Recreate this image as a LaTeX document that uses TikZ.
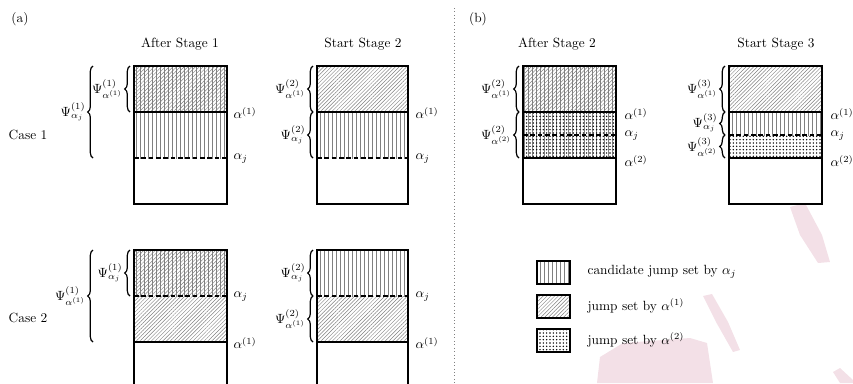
\documentclass[tikz,border=0pt]{standalone}
\usetikzlibrary{patterns.meta,decorations.pathreplacing}
\definecolor{wm}{RGB}{243,224,231}
\begin{document}
\begin{tikzpicture}[x=0.75pt,y=-0.75pt,
  boxline/.style={line width=1.1pt},
  vlines/.style={pattern={Lines[angle=90,distance=3pt,line width=0.5pt]},pattern color=gray},
  nelines/.style={pattern={Lines[angle=45,distance=2pt,line width=0.35pt]},pattern color=gray},
  dotfill/.style={pattern={Dots[distance=2.5pt,radius=0.6pt]},pattern color=black},
  ajline/.style={line width=1.2pt,dash pattern=on 3.5pt off 2pt},
  brc/.style={decorate,decoration={brace,amplitude=4pt},line width=0.9pt},
  lbl/.style={anchor=east,inner sep=1pt},
  rlbl/.style={anchor=west,inner sep=1pt},
  ttl/.style={inner sep=1pt},
  lgbox/.style={line width=1.1pt}]
\clip (0,0) rectangle (853,383);
% watermark shapes
\fill[wm] (790,207) -- (805,203) -- (822,235) -- (830,262) -- (818,263) -- (800,235) -- cycle;
\fill[wm] (703,296) -- (712,294) -- (728,322) -- (740,350) -- (733,352) -- (716,322) -- cycle;
\fill[wm] (600,357) -- (623,343) -- (690,338) -- (707,343) -- (713,383) -- (597,383) -- cycle;
\fill[wm] (833,372) -- (840,368) -- (853,380) -- (853,383) -- (840,383) -- cycle;
% divider
\draw[gray, dotted, line width=0.6pt] (454,8) -- (454,383);
% headings
\node[ttl] (pa) at (20,19) {(a)};
\node[ttl] (pb) at (478,19) {(b)};
\node[ttl] (t1) at (180,44) {After Stage 1};
\node[ttl] (t2) at (363,44) {Start Stage 2};
\node[ttl] (t3) at (557,44) {After Stage 2};
\node[ttl] (t4) at (776,44) {Start Stage 3};
\node[ttl] (c1) at (28,135) {Case 1};
\node[ttl] (c2) at (28,318) {Case 2};

% ===== Case 1, After Stage 1 =====
\path[vlines] (134,66) rectangle (227,158);
\path[nelines] (134,66) rectangle (227,112);
\draw[boxline] (134,66) rectangle (227,204);
\draw[boxline] (134,112) -- (227,112);
\draw[ajline] (134,158) -- (227,158);
\draw[brc] (130,112) -- (130,66);
\node[lbl] (a1s) at (124,89) {$\Psi^{(1)}_{\alpha^{(1)}}$};
\draw[brc] (93,158) -- (93,66);
\node[lbl] (a1b) at (87,112) {$\Psi^{(1)}_{\alpha_j}$};
\node[rlbl] (a1r1) at (232,113) {$\alpha^{(1)}$};
\node[rlbl] (a1r2) at (232,159) {$\alpha_j$};

% ===== Case 1, Start Stage 2 =====
\path[vlines] (317,112) rectangle (408,158);
\path[nelines] (317,66) rectangle (408,112);
\draw[boxline] (317,66) rectangle (408,204);
\draw[boxline] (317,112) -- (408,112);
\draw[ajline] (317,158) -- (408,158);
\draw[brc] (313,112) -- (313,66);
\node[lbl] (b1s) at (307,89) {$\Psi^{(2)}_{\alpha^{(1)}}$};
\draw[brc] (313,158) -- (313,112);
\node[lbl] (b1t) at (307,135) {$\Psi^{(2)}_{\alpha_j}$};
\node[rlbl] (b1r1) at (414,113) {$\alpha^{(1)}$};
\node[rlbl] (b1r2) at (414,159) {$\alpha_j$};

% ===== Case 2, After Stage 1 =====
\path[vlines] (134,250) rectangle (227,296);
\path[nelines] (134,250) rectangle (227,342);
\draw[boxline] (134,395) -- (134,250) -- (227,250) -- (227,395);
\draw[boxline] (134,342) -- (227,342);
\draw[ajline] (134,296) -- (227,296);
\draw[brc] (130,296) -- (130,250);
\node[lbl] (a2s) at (124,273) {$\Psi^{(1)}_{\alpha_j}$};
\draw[brc] (93,342) -- (93,250);
\node[lbl] (a2b) at (87,296) {$\Psi^{(1)}_{\alpha^{(1)}}$};
\node[rlbl] (a2r1) at (232,297) {$\alpha_j$};
\node[rlbl] (a2r2) at (232,343) {$\alpha^{(1)}$};

% ===== Case 2, Start Stage 2 =====
\path[vlines] (317,250) rectangle (408,296);
\path[nelines] (317,296) rectangle (408,342);
\draw[boxline] (317,395) -- (317,250) -- (408,250) -- (408,395);
\draw[boxline] (317,342) -- (408,342);
\draw[ajline] (317,296) -- (408,296);
\draw[brc] (313,296) -- (313,250);
\node[lbl] (b2s) at (307,273) {$\Psi^{(2)}_{\alpha_j}$};
\draw[brc] (313,342) -- (313,296);
\node[lbl] (b2t) at (307,319) {$\Psi^{(2)}_{\alpha^{(1)}}$};
\node[rlbl] (b2r1) at (414,297) {$\alpha_j$};
\node[rlbl] (b2r2) at (414,343) {$\alpha^{(1)}$};

% ===== (b) After Stage 2 =====
\path[vlines] (523,66) rectangle (616,158);
\path[nelines] (523,66) rectangle (616,112);
\path[dotfill] (523,112) rectangle (616,158);
\draw[boxline] (523,66) rectangle (616,204);
\draw[boxline] (523,112) -- (616,112);
\draw[ajline] (523,135) -- (616,135);
\draw[boxline] (523,158) -- (616,158);
\draw[brc] (519,112) -- (519,66);
\node[lbl] (c3s) at (513,89) {$\Psi^{(2)}_{\alpha^{(1)}}$};
\draw[brc] (519,158) -- (519,112);
\node[lbl] (c3t) at (513,135) {$\Psi^{(2)}_{\alpha^{(2)}}$};
\node[rlbl] (c3r1) at (623,114) {$\alpha^{(1)}$};
\node[rlbl] (c3r2) at (623,136) {$\alpha_j$};
\node[rlbl] (c3r3) at (623,161) {$\alpha^{(2)}$};

% ===== (b) Start Stage 3 =====
\path[nelines] (729,66) rectangle (822,112);
\path[vlines] (729,112) rectangle (822,135);
\path[dotfill] (729,135) rectangle (822,158);
\draw[boxline] (729,66) rectangle (822,204);
\draw[boxline] (729,112) -- (822,112);
\draw[ajline] (729,135) -- (822,135);
\draw[boxline] (729,158) -- (822,158);
\draw[brc] (725,112) -- (725,66);
\node[lbl] (d3s) at (719,89) {$\Psi^{(3)}_{\alpha^{(1)}}$};
\draw[brc] (725,135) -- (725,112);
\node[lbl] (d3t) at (719,123) {$\Psi^{(3)}_{\alpha_j}$};
\draw[brc] (725,158) -- (725,135);
\node[lbl] (d3u) at (719,147) {$\Psi^{(3)}_{\alpha^{(2)}}$};
\node[rlbl] (d3r1) at (829,114) {$\alpha^{(1)}$};
\node[rlbl] (d3r2) at (829,136) {$\alpha_j$};
\node[rlbl] (d3r3) at (829,161) {$\alpha^{(2)}$};

% ===== legend =====
\path[vlines] (537,261) rectangle (570,284);
\draw[lgbox] (537,261) rectangle (570,284);
\path[nelines] (537,295) rectangle (570,318);
\draw[lgbox] (537,295) rectangle (570,318);
\path[dotfill] (537,329) rectangle (570,352);
\draw[lgbox] (537,329) rectangle (570,352);
\node[rlbl] (l1) at (586,272) {candidate jump set by $\alpha_j$};
\node[rlbl] (l2) at (586,306) {jump set by $\alpha^{(1)}$};
\node[rlbl] (l3) at (586,340) {jump set by $\alpha^{(2)}$};
\end{tikzpicture}
\end{document}
